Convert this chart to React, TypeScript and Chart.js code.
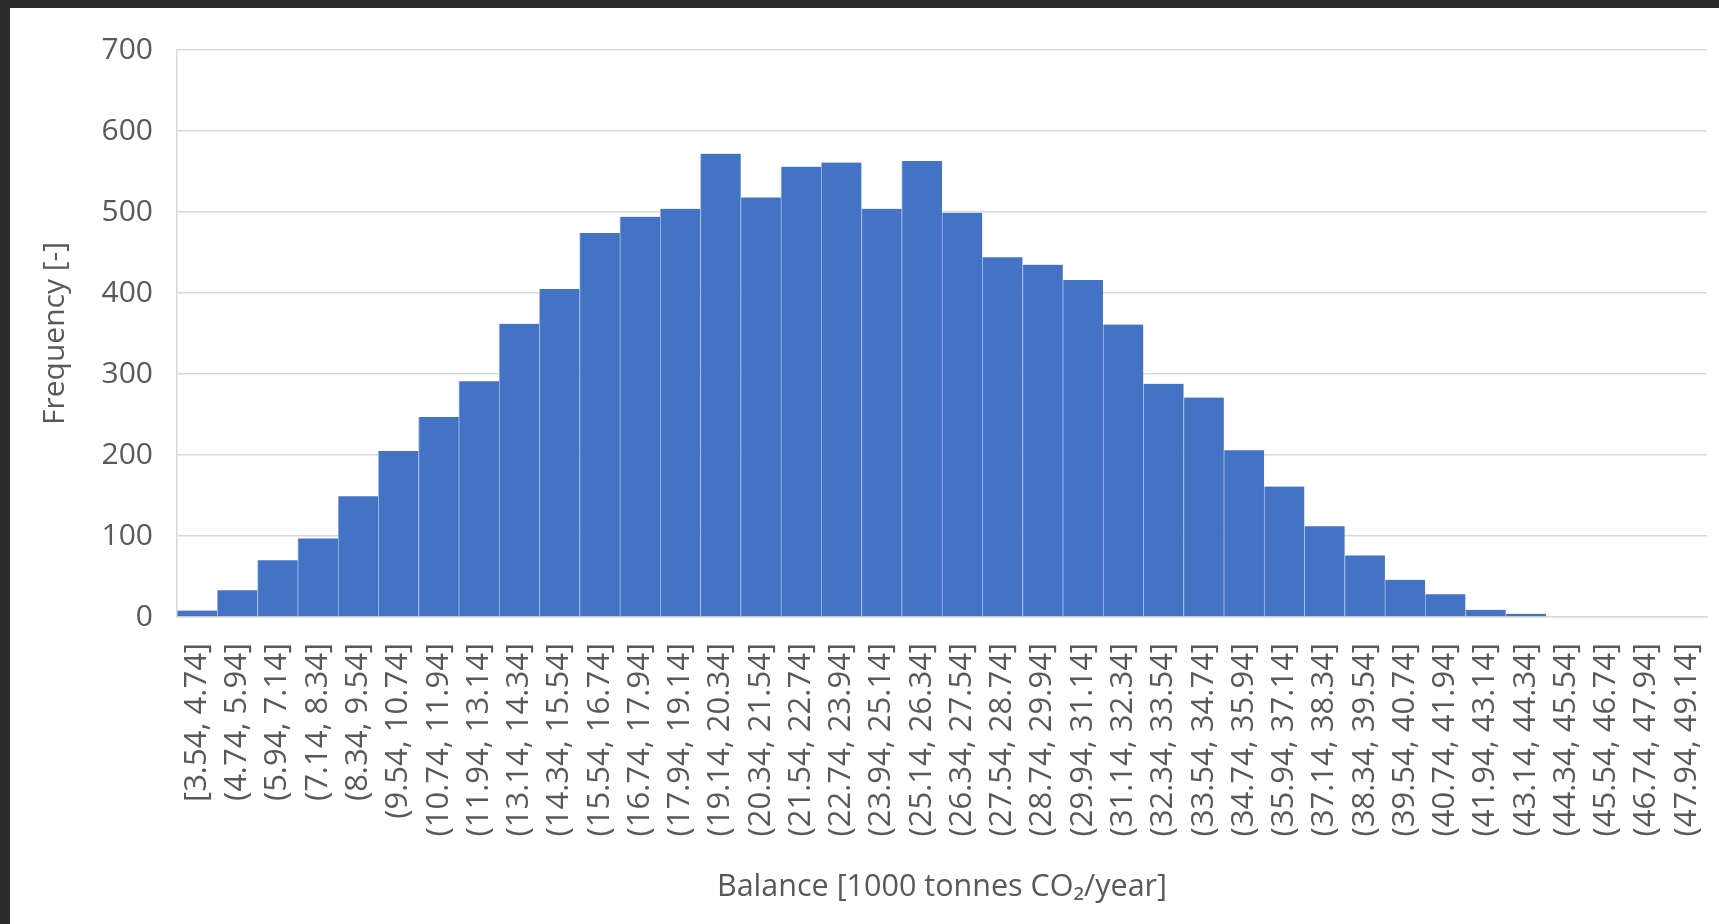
import React, { useEffect, useRef } from "react";
import { Chart, registerables } from "chart.js";

Chart.register(...registerables);

const binLabels: string[] = [
  "[3.54, 4.74]", "(4.74, 5.94]", "(5.94, 7.14]", "(7.14, 8.34]", "(8.34, 9.54]",
  "(9.54, 10.74]", "(10.74, 11.94]", "(11.94, 13.14]", "(13.14, 14.34]", "(14.34, 15.54]",
  "(15.54, 16.74]", "(16.74, 17.94]", "(17.94, 19.14]", "(19.14, 20.34]", "(20.34, 21.54]",
  "(21.54, 22.74]", "(22.74, 23.94]", "(23.94, 25.14]", "(25.14, 26.34]", "(26.34, 27.54]",
  "(27.54, 28.74]", "(28.74, 29.94]", "(29.94, 31.14]", "(31.14, 32.34]", "(32.34, 33.54]",
  "(33.54, 34.74]", "(34.74, 35.94]", "(35.94, 37.14]", "(37.14, 38.34]", "(38.34, 39.54]",
  "(39.54, 40.74]", "(40.74, 41.94]", "(41.94, 43.14]", "(43.14, 44.34]", "(44.34, 45.54]",
  "(45.54, 46.74]", "(46.74, 47.94]", "(47.94, 49.14]",
];

const frequency: number[] = [
  8, 33, 70, 97, 149, 205, 247, 291, 362, 405,
  474, 494, 504, 572, 518, 556, 561, 504, 563, 499,
  444, 435, 416, 361, 288, 271, 206, 161, 112, 76,
  46, 28, 9, 4, 0, 0, 0, 0,
];

const yMin = 0;
const yMax = 700;
const yStep = 100;

const xTitle = "Balance [1000 tonnes CO\u2082/year]";
const yTitle = "Frequency [-]";

const FONT = "'Open Sans', 'Noto Sans', sans-serif";
const TEXT = "#595959";
const GRID = "#d9d9d9";

export default function App() {
  const ref = useRef<HTMLCanvasElement | null>(null);

  useEffect(() => {
    if (!ref.current) return;
    const chart = new Chart(ref.current, {
      type: "bar",
      data: {
        labels: binLabels,
        datasets: [
          {
            label: "Frequency",
            data: frequency,
            backgroundColor: "#4472C4",
            borderColor: "#a3b9e2",
            borderWidth: { left: 1, right: 0, top: 0, bottom: 0 },
            borderSkipped: false,
            barPercentage: 1,
            categoryPercentage: 1,
          },
        ],
      },
      options: {
        animation: false,
        responsive: false,
        maintainAspectRatio: false,
        layout: { padding: { top: 42, right: 12, bottom: 0, left: 0 } },
        plugins: {
          legend: { display: false },
          tooltip: { enabled: false },
        },
        scales: {
          x: {
            grid: { display: false, drawTicks: false },
            border: { display: true, color: GRID, width: 1.5 },
            ticks: {
              autoSkip: false,
              maxRotation: 90,
              minRotation: 90,
              padding: 26,
              color: TEXT,
              font: { family: FONT, size: 31 },
            },
            title: {
              display: true,
              text: xTitle,
              color: TEXT,
              font: { family: FONT, size: 30.5 },
              padding: { top: 0, bottom: 18 },
            },
            afterFit: (scale: any) => {
              scale.height = 307;
              scale.paddingRight = 0;
              scale.paddingLeft = 0;
            },
          },
          y: {
            min: yMin,
            max: yMax,
            grid: { color: GRID, lineWidth: 1.5, drawTicks: false },
            border: { display: true, color: GRID, width: 1.5 },
            ticks: {
              stepSize: yStep,
              padding: 24,
              color: TEXT,
              font: { family: FONT, size: 30 },
            },
            title: {
              display: true,
              text: yTitle,
              color: TEXT,
              font: { family: FONT, size: 30 },
              padding: { top: 27, bottom: 0 },
            },
            afterFit: (scale: any) => {
              scale.width = 167;
            },
          },
        },
      },
    });
    return () => chart.destroy();
  }, []);

  return (
    <div
      style={{
        position: "fixed",
        left: 0,
        top: 0,
        width: 1719,
        height: 924,
        background: "#2b2b2b",
        overflow: "hidden",
      }}
    >
      <div
        style={{
          position: "absolute",
          left: 10,
          top: 8,
          width: 1709,
          height: 916,
          background: "#ffffff",
        }}
      >
        <canvas ref={ref} width={1709} height={916} style={{ display: "block" }} />
      </div>
    </div>
  );
}
